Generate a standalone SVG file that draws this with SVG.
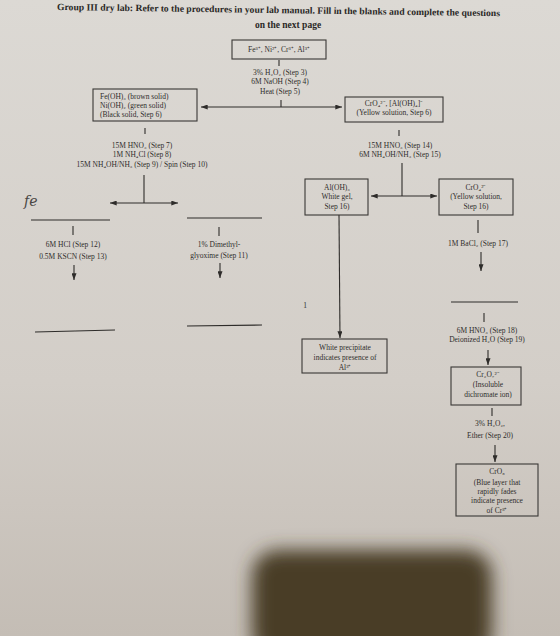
<svg xmlns="http://www.w3.org/2000/svg" width="560" height="636" viewBox="0 0 560 636">
<defs>
<linearGradient id="paper" x1="0" y1="0" x2="0" y2="1">
<stop offset="0" stop-color="#dcd9d4"/>
<stop offset="0.6" stop-color="#d3cec8"/>
<stop offset="1" stop-color="#c4bdb5"/>
</linearGradient>
<filter id="blur" x="-30%" y="-30%" width="160%" height="160%"><feGaussianBlur stdDeviation="9"/></filter>
<marker id="ah" viewBox="0 0 8 6" refX="8" refY="3" markerWidth="7" markerHeight="5" markerUnits="userSpaceOnUse" orient="auto-start-reverse">
<path d="M0,0 L8,3 L0,6 z" fill="#2e2c2a"/>
</marker>
<style>
.t{font-family:"Liberation Serif","Times New Roman",serif;font-size:7.5px;fill:#2f2d2b;text-anchor:middle}
.l{text-anchor:start}
.title{font-family:"Liberation Serif","Times New Roman",serif;font-size:9.5px;font-weight:bold;fill:#2a2826}
.box{fill:none;stroke:#3a3836;stroke-width:1.1}
.c{stroke:#2e2c2a;stroke-width:1.1;fill:none}
.a{stroke:#2e2c2a;stroke-width:1.1;fill:none;marker-end:url(#ah)}
.aa{stroke:#2e2c2a;stroke-width:1.1;fill:none;marker-end:url(#ah);marker-start:url(#ah)}
.blank{stroke:#2e2c2a;stroke-width:1.2}
</style>
</defs>
<rect x="0" y="0" width="560" height="636" fill="url(#paper)"/>
<rect x="252" y="550" width="240" height="110" rx="26" fill="#4a3c27" filter="url(#blur)"/>

<g id="title">
<text class="title" x="57" y="10" textLength="443" lengthAdjust="spacingAndGlyphs" transform="rotate(0.8 57 10)">Group III dry lab: Refer to the procedures in your lab manual. Fill in the blanks and complete the questions</text>
<text class="title" x="288" y="28" text-anchor="middle">on the next page</text>
</g>

<g id="connectors">
<line class="c" x1="279" y1="60" x2="279" y2="66"/>
<line class="c" x1="281" y1="100" x2="281" y2="107"/>
<line class="aa" x1="201" y1="107" x2="342" y2="107"/>
<line class="c" x1="145" y1="128" x2="145" y2="134"/>
<line class="c" x1="144" y1="175" x2="144" y2="203"/>
<line class="aa" x1="110" y1="203" x2="178" y2="203"/>
<line class="c" x1="399" y1="130" x2="399" y2="136"/>
<line class="c" x1="402" y1="163" x2="402" y2="196"/>
<line class="aa" x1="371" y1="196" x2="437" y2="196"/>
<line class="c" x1="73" y1="226" x2="73" y2="235"/>
<line class="c" x1="219" y1="227" x2="219" y2="236"/>
<line class="a" x1="74" y1="265" x2="74" y2="280"/>
<line class="a" x1="220" y1="263" x2="220" y2="278"/>
<line class="a" x1="339" y1="215" x2="340" y2="338"/>
<line class="c" x1="478" y1="220" x2="478" y2="233"/>
<line class="a" x1="481" y1="252" x2="481" y2="271"/>
<line class="c" x1="484" y1="313" x2="484" y2="322"/>
<line class="a" x1="488" y1="350" x2="488" y2="365"/>
<line class="c" x1="492" y1="408" x2="492" y2="416"/>
<line class="a" x1="495" y1="445" x2="495" y2="462"/>
</g>

<g id="blanks">
<line class="blank" x1="31" y1="220" x2="110" y2="220"/>
<line class="blank" x1="187" y1="218" x2="262" y2="218"/>
<line class="blank" x1="35" y1="332" x2="115" y2="330"/>
<line class="blank" x1="187" y1="326" x2="262" y2="325"/>
<line class="blank" x1="451" y1="302" x2="518" y2="302"/>
</g>

<g id="node-ions">
<rect class="box" x="232" y="40" width="94" height="19"/>
<text class="t" x="279" y="52">Fe³⁺, Ni²⁺, Cr³⁺, Al³⁺</text>
</g>

<g id="step3-5">
<text class="t" x="280" y="75">3% H₂O₂ (Step 3)</text>
<text class="t" x="280" y="84">6M NaOH (Step 4)</text>
<text class="t" x="280" y="94">Heat (Step 5)</text>
</g>

<g id="node-hydroxides">
<rect class="box" x="93" y="89" width="104" height="32"/>
<text class="t l" x="100" y="99">Fe(OH)₃ (brown solid)</text>
<text class="t l" x="100" y="108">Ni(OH)₂ (green solid)</text>
<text class="t l" x="100" y="117">(Black solid, Step 6)</text>
</g>

<g id="node-yellow1">
<rect class="box" x="345" y="97" width="98" height="25"/>
<text class="t" x="394" y="106">CrO₄²⁻, [Al(OH)₄]⁻</text>
<text class="t" x="394" y="115">(Yellow solution, Step 6)</text>
</g>

<g id="step7-10">
<text class="t" x="142" y="148">15M HNO₃ (Step 7)</text>
<text class="t" x="142" y="157">1M NH₄Cl (Step 8)</text>
<text class="t" x="142" y="167">15M NH₄OH/NH₃ (Step 9) / Spin (Step 10)</text>
</g>

<g id="step14-15">
<text class="t" x="400" y="148">15M HNO₃ (Step 14)</text>
<text class="t" x="400" y="157">6M NH₄OH/NH₃ (Step 15)</text>
</g>

<g id="note-fe">
<text x="24" y="206" font-family="'DejaVu Serif','Liberation Serif',serif" font-style="italic" font-size="14" fill="#4a4744">fe</text>
</g>

<g id="step12-13">
<text class="t" x="73" y="247">6M HCl (Step 12)</text>
<text class="t" x="73" y="259">0.5M KSCN (Step 13)</text>
</g>

<g id="step11">
<text class="t" x="219" y="247">1% Dimethyl-</text>
<text class="t" x="219" y="258">glyoxime (Step 11)</text>
</g>

<g id="node-aloh">
<rect class="box" x="305" y="179" width="63" height="36"/>
<text class="t" x="337" y="190">Al(OH)₃</text>
<text class="t" x="337" y="199">White gel,</text>
<text class="t" x="337" y="209">Step 16)</text>
</g>

<g id="node-cro4">
<rect class="box" x="439" y="179" width="74" height="36"/>
<text class="t" x="476" y="190">CrO₄²⁻</text>
<text class="t" x="476" y="199">(Yellow solution,</text>
<text class="t" x="476" y="209">Step 16)</text>
</g>

<g id="step17">
<text class="t" x="478" y="246">1M BaCl₂ (Step 17)</text>
</g>

<g id="mark-1">
<text class="t" x="305" y="308">1</text>
</g>

<g id="node-white">
<rect class="box" x="302" y="339" width="85" height="34"/>
<text class="t" x="345" y="350">White precipitate</text>
<text class="t" x="345" y="360">indicates presence of</text>
<text class="t" x="345" y="370">Al³⁺</text>
</g>

<g id="step18-19">
<text class="t" x="487" y="333">6M HNO₃ (Step 18)</text>
<text class="t" x="487" y="342">Deionized H₂O (Step 19)</text>
</g>

<g id="node-cr2o7">
<rect class="box" x="451" y="367" width="70" height="38"/>
<text class="t" x="488" y="377">Cr₂O₇²⁻</text>
<text class="t" x="488" y="387">(Insoluble</text>
<text class="t" x="488" y="397">dichromate ion)</text>
</g>

<g id="step20">
<text class="t" x="490" y="426">3% H₂O₂,</text>
<text class="t" x="490" y="438">Ether (Step 20)</text>
</g>

<g id="node-cro5">
<rect class="box" x="456" y="464" width="82" height="52"/>
<text class="t" x="497" y="474">CrO₅</text>
<text class="t" x="497" y="485">(Blue layer that</text>
<text class="t" x="497" y="494">rapidly fades</text>
<text class="t" x="497" y="503">indicate presence</text>
<text class="t" x="497" y="513">of Cr³⁺</text>
</g>
</svg>
